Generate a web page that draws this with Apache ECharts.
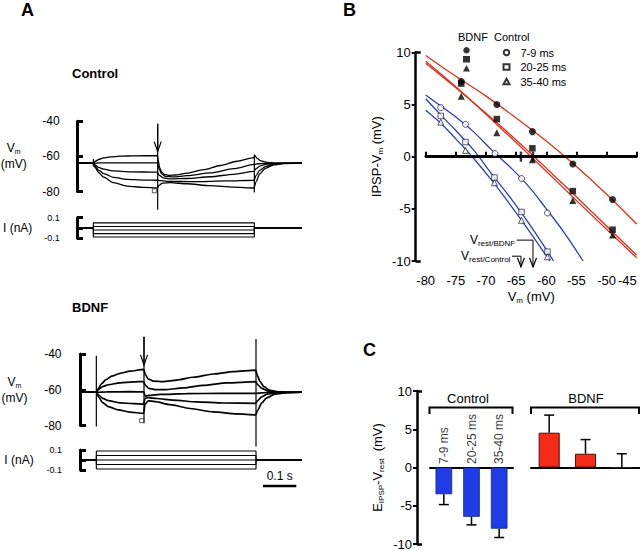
<!DOCTYPE html>
<html><head><meta charset="utf-8">
<script src="https://cdn.jsdelivr.net/npm/echarts/dist/echarts.min.js"></script>
<style>html,body{margin:0;padding:0;background:#fff}#c{width:640px;height:551px}</style>
</head><body><div id="c"></div>
<script>
// ===== Panel A: membrane potential traces, [time ms, mV] =====
const ctrlTraces = [
  [[0,-63.9],[49,-63.9],[55,-62.8],[65,-61.8],[80,-60.9],[100,-60.3],[130,-59.9],[170,-59.7],[241,-59.6],[244,-62.5],[248,-66.5],[254,-69],[262,-70.3],[275,-70.8],[295,-70.6],[330,-69.6],[380,-67.6],[430,-65.2],[480,-62.8],[531,-60.7],[534,-59.6],[540,-61.2],[552,-62.6],[570,-63.5],[600,-63.9],[674,-63.9]],
  [[0,-63.9],[49,-63.9],[70,-63.7],[241,-63.7],[246,-67],[254,-70],[265,-71.4],[290,-71.7],[330,-71],[400,-69.4],[470,-67],[531,-64.6],[545,-64.2],[580,-63.9],[674,-63.9]],
  [[0,-63.9],[49,-63.9],[55,-65],[65,-66.3],[80,-67.3],[110,-68.3],[160,-68.8],[241,-69],[247,-70.8],[258,-72.2],[280,-72.8],[330,-72.6],[400,-71.6],[470,-70.2],[531,-68.6],[537,-67],[550,-65.4],[570,-64.4],[600,-64],[674,-63.9]],
  [[0,-63.9],[49,-63.9],[55,-65.8],[65,-67.8],[80,-69.8],[110,-72],[150,-73.1],[200,-73.5],[241,-73.6],[250,-73.8],[270,-74.2],[350,-74.4],[450,-74],[531,-73.6],[537,-71],[548,-68],[565,-65.8],[590,-64.5],[620,-64],[674,-63.9]],
  [[0,-63.9],[49,-63.9],[55,-66.5],[65,-69.2],[80,-71.8],[110,-75],[150,-76.9],[200,-77.7],[241,-78],[246,-76.5],[256,-75.2],[280,-75],[330,-75.6],[400,-76.7],[470,-77.5],[531,-78],[537,-74.5],[548,-70],[565,-66.8],[590,-64.9],[620,-64.1],[674,-63.9]]
];
const ctrlArtifacts = [[[49,-61.5],[49,-65.8]], [[242,-41.5],[242,-90.4]], [[532,-59],[532,-80.5]]];
const ctrlArrowTip = [242, -57.3];
const ctrlMeasure = [232, -79.6];
const ctrlCurrentLevels = [0.05, 0.015, -0.02, -0.055, -0.087];
const ctrlStep = [49, 532, 674];

const bdnfTraces = [
  [[0,-61.4],[49,-61.4],[55,-59.2],[65,-56.6],[78,-54.3],[95,-52.4],[120,-50.8],[150,-49.6],[191,-48.6],[196,-51.5],[205,-54],[220,-55.2],[250,-55.4],[290,-54.6],[340,-53],[400,-51.2],[460,-49.9],[527,-49],[532,-52],[540,-55.5],[552,-58.3],[568,-60.2],[590,-61.1],[620,-61.4],[666,-61.4]],
  [[0,-61.4],[49,-61.4],[56,-59.8],[68,-58.2],[85,-57.2],[120,-56.1],[160,-55.6],[191,-55.4],[196,-57.5],[206,-59.2],[225,-59.9],[260,-59.9],[310,-59],[370,-57.6],[440,-56.2],[527,-55.5],[533,-57.2],[545,-59.2],[562,-60.6],[590,-61.2],[666,-61.4]],
  [[0,-61.4],[49,-61.4],[80,-61.2],[150,-61.1],[191,-61.2],[196,-63.6],[206,-63.2],[240,-62.6],[320,-62.2],[420,-62],[527,-62],[545,-61.7],[580,-61.4],[666,-61.4]],
  [[0,-61.4],[49,-61.4],[56,-63],[68,-64.8],[85,-66.1],[120,-67.3],[160,-67.8],[191,-68],[195,-64.8],[205,-64.4],[230,-64.9],[280,-65.8],[350,-66.8],[430,-67.4],[527,-67.6],[533,-66],[545,-64],[562,-62.5],[590,-61.7],[666,-61.4]],
  [[0,-61.4],[49,-61.4],[56,-64.2],[68,-67.2],[85,-69.4],[115,-71.3],[150,-72.5],[191,-73.2],[195,-68],[205,-66.2],[225,-66.6],[270,-68.3],[330,-70.5],[400,-72.4],[470,-73.5],[527,-74],[533,-71.5],[545,-67.5],[560,-64.5],[585,-62.4],[620,-61.6],[666,-61.4]]
];
const bdnfArtifacts = [[[49,-41],[49,-80.5]], [[192,-30.3],[192,-78.7]], [[528,-31.6],[528,-91.8]]];
const bdnfArrowTip = [192, -46.1];
const bdnfMeasure = [185, -77.3];
const bdnfCurrentLevels = [0.09, 0.045, 0, -0.045, -0.09];
const bdnfStep = [49, 528, 666];
const scaleBar = [[549, -0.26], [599, -0.26], [649, -0.26]];   // 0.1 s bar (start, label point, end)

// ===== Panel B: IPSP - Vm versus Vm =====
const bdnfCircle   = [[-74.1,7.2],[-68.2,5.0],[-62.3,2.4],[-55.6,-0.7],[-49.0,-4.1]];
const bdnfSquare   = [[-74.1,7.0],[-68.2,3.6],[-62.3,0.8],[-55.6,-3.3],[-49.0,-7.0]];
const bdnfTriangle = [[-74.1,5.8],[-68.2,2.3],[-62.3,-0.3],[-55.6,-4.2],[-49.0,-7.5]];
const ctrlCircle   = [[-77.5,4.7],[-73.4,3.1],[-68.5,0.3],[-64.1,-2.1],[-59.8,-5.4]];
const ctrlSquare   = [[-77.5,3.9],[-73.4,1.4],[-68.6,-2.0],[-64.1,-5.3],[-59.8,-9.1]];
const ctrlTriangle = [[-77.5,3.3],[-73.4,0.6],[-68.6,-2.5],[-64.1,-6.1],[-59.8,-9.6]];
const bdnfCircleFit   = [[-80,9.7],[-75,7.7],[-70,5.8],[-65,3.7],[-60,1.5],[-55,-0.95],[-50,-3.6],[-45,-6.45]];
const bdnfSquareFit   = [[-80,8.95],[-75,6.6],[-70,4.15],[-65,1.6],[-60,-1.1],[-55,-3.85],[-50,-6.65],[-45,-9.45]];
const bdnfTriangleFit = [[-80,9.15],[-75,6.7],[-70,4.05],[-65,1.35],[-60,-1.4],[-55,-4.2],[-50,-6.95],[-45,-9.7]];
const ctrlCircleFit   = [[-80,5.9],[-77.5,4.85],[-75,3.8],[-72,2.35],[-69,0.6],[-66,-1.0],[-63,-2.8],[-60,-5.0],[-57,-7.3],[-53.9,-10]];
const ctrlSquareFit   = [[-80,5.55],[-77.5,4.0],[-75,2.5],[-72,0.6],[-69,-1.7],[-66,-3.9],[-63,-6.3],[-60,-8.9],[-58.8,-10]];
const ctrlTriangleFit = [[-80,4.45],[-77.5,3.2],[-75,1.7],[-72,-0.2],[-69,-2.3],[-66,-4.6],[-63,-7.0],[-60,-9.5],[-59.4,-10]];
const vrest = [-64.2, -62.2];                 // Control, BDNF resting potentials
const vrestArrowRows = [-9.54, -8.0];         // y of each annotation leader (data units)
const vrestLabelEnds = [-65.7, -64.9];
const arrowBottom = -10.57;
const durations = ['7-9 ms', '20-25 ms', '35-40 ms'];

// ===== Panel C: E_IPSP - V_rest =====
const ctrlBars = [-3.5, -6.45, -8.0];
const ctrlBarErr = [-4.85, -7.5, -9.15];
const bdnfBars = [4.55, 1.8, 0];
const bdnfBarErr = [6.85, 3.65, 1.8];

// ------------------------------------------------------------------
const FONT = '"Liberation Sans", Arial, Helvetica, sans-serif';
const chart = echarts.init(document.getElementById('c'), null, {renderer: 'svg', width: 640, height: 551});
const BLK = '#000';
const RED = '#e0301e', BLUE = '#2a3fc8';
const sub = {
  v: {fontSize: 13, color: BLK, fontFamily: FONT},
  s: {fontSize: 8, color: BLK, fontFamily: FONT, padding: [8, 0, 0, 0]}
};
const chevron = 'path://M0,0 L5,10 L10,0';
const arrowStyle = {color: 'transparent', borderColor: BLK, borderWidth: 1.3};

function traceSeries(data, xi, yi, w) {
  return {type: 'line', xAxisIndex: xi, yAxisIndex: yi, data: data, symbol: 'none', clip: false,
    smooth: 0.25, smoothMonotone: 'x', lineStyle: {color: BLK, width: w}, silent: true, z: 3};
}
function stepTrace(level, step) {
  return [[0, 0], [step[0], 0], [step[0], level], [step[1], level], [step[1], 0], [step[2], 0]];
}
function hiddenX(gi, max) {
  return {gridIndex: gi, type: 'value', min: 0, max: max, show: false};
}
function bracketY(gi, min, max, interval, offset, fs, name, gap, labelFmt) {
  return {gridIndex: gi, type: 'value', min: min, max: max, interval: interval, offset: offset, position: 'left',
    axisLine: {show: true, lineStyle: {color: BLK, width: 3}},
    axisTick: {show: true, inside: true, length: 6, lineStyle: {color: BLK, width: 3}},
    axisLabel: {fontSize: fs, color: BLK, margin: 6, fontFamily: FONT, formatter: labelFmt},
    splitLine: {show: false},
    name: name, nameLocation: 'middle', nameRotate: 0, nameGap: gap,
    nameTextStyle: {align: 'center', fontSize: 12, color: BLK, fontFamily: FONT, lineHeight: 16,
      rich: {v: {fontSize: 12, fontFamily: FONT, color: BLK}, s: {fontSize: 7, fontFamily: FONT, color: BLK, padding: [7,0,0,0]}}}
  };
}
// arrow drawn as a vertical line series whose last point carries an open chevron head
function arrowSeries(xi, yi, from, tip) {
  return {type: 'line', xAxisIndex: xi, yAxisIndex: yi, clip: false, silent: true, z: 5,
    showSymbol: true, symbol: 'none', lineStyle: {color: BLK, width: 1.2},
    data: [{value: from, symbol: 'none'},
           {value: tip, symbol: chevron, symbolSize: [7, 10], symbolOffset: [0, '-50%'], itemStyle: arrowStyle}]};
}

const series = [];
// Panel A control
ctrlTraces.forEach(t => series.push(traceSeries(t, 0, 0, 1.3)));
ctrlArtifacts.forEach(t => series.push(Object.assign(traceSeries(t, 0, 0, 1.2), {smooth: false})));
series.push(arrowSeries(0, 0, ctrlArtifacts[1][0], ctrlArrowTip));
series.push({type: 'scatter', xAxisIndex: 0, yAxisIndex: 0, data: [ctrlMeasure], symbol: 'rect', symbolSize: 4,
  itemStyle: {color: '#fff', borderColor: BLK, borderWidth: 0.8}, silent: true, z: 4});
ctrlCurrentLevels.forEach(l => series.push(Object.assign(traceSeries(stepTrace(l, ctrlStep), 1, 1, 1.1), {smooth: false})));
// Panel A BDNF
bdnfTraces.forEach(t => series.push(traceSeries(t, 2, 2, 1.7)));
bdnfArtifacts.forEach(t => series.push(Object.assign(traceSeries(t, 2, 2, 1.2), {smooth: false})));
series.push(arrowSeries(2, 2, bdnfArtifacts[1][0], bdnfArrowTip));
series.push({type: 'scatter', xAxisIndex: 2, yAxisIndex: 2, data: [bdnfMeasure], symbol: 'rect', symbolSize: 4,
  itemStyle: {color: '#fff', borderColor: BLK, borderWidth: 0.8}, silent: true, z: 4});
bdnfCurrentLevels.forEach(l => series.push(Object.assign(traceSeries(stepTrace(l, bdnfStep), 3, 3, 1.1), {smooth: false})));
// time scale bar (0.1 s)
series.push({type: 'line', xAxisIndex: 3, yAxisIndex: 3, clip: false, silent: true, showSymbol: true,
  symbol: 'none', lineStyle: {color: BLK, width: 2.5},
  data: [{value: scaleBar[0], symbol: 'none'},
         {value: scaleBar[1], symbol: 'circle', symbolSize: 1, itemStyle: {color: 'transparent'},
           label: {show: true, position: 'top', distance: 4, formatter: '0.1 s', fontSize: 12, color: BLK, fontFamily: FONT}},
         {value: scaleBar[2], symbol: 'none'}]});

// Panel B fits
[[bdnfCircleFit, RED], [bdnfSquareFit, RED], [bdnfTriangleFit, RED],
 [ctrlCircleFit, BLUE], [ctrlSquareFit, BLUE], [ctrlTriangleFit, BLUE]].forEach(([d, c]) => {
  series.push({type: 'line', xAxisIndex: 4, yAxisIndex: 4, data: d, symbol: 'none', smooth: 0.4,
    lineStyle: {color: c, width: 1.3}, silent: true, z: 2});
});
// zero line and Vrest ticks
series.push({type: 'scatter', name: 'Vrest', xAxisIndex: 4, yAxisIndex: 4, data: vrest.map(v => [v, 0]),
  symbol: 'rect', symbolSize: [2.5, 10], itemStyle: {color: BLK}, silent: true, z: 5,
  markLine: {silent: true, symbol: 'none', lineStyle: {color: BLK, width: 3, type: 'solid'}, label: {show: false},
    data: [{yAxis: 0}]}});
// markers
const bSym = [['BDNF 7-9 ms', bdnfCircle, 'circle'], ['BDNF 20-25 ms', bdnfSquare, 'rect'], ['BDNF 35-40 ms', bdnfTriangle, 'triangle']];
const cSym = [[durations[0], ctrlCircle, 'circle'], [durations[1], ctrlSquare, 'rect'], [durations[2], ctrlTriangle, 'triangle']];
bSym.forEach(([n, d, s]) => series.push({type: 'scatter', name: n, xAxisIndex: 4, yAxisIndex: 4, data: d,
  symbol: s, symbolSize: s === 'rect' ? 6.5 : 7, itemStyle: {color: BLK}, silent: true, z: 6}));
cSym.forEach(([n, d, s]) => series.push({type: 'scatter', name: n, xAxisIndex: 4, yAxisIndex: 4, data: d,
  symbol: s, symbolSize: s === 'rect' ? 5.5 : 6, itemStyle: {color: '#fff', borderColor: BLK, borderWidth: 0.8}, silent: true, z: 6}));
// Vrest annotation arrows
const vrestLabels = ['{v|V}{s|rest/Control}', '{v|V}{s|rest/BDNF}'];
vrest.forEach((v, i) => {
  series.push({type: 'line', xAxisIndex: 4, yAxisIndex: 4, clip: false, symbol: 'none', showSymbol: true,
    lineStyle: {color: BLK, width: 1}, silent: true, z: 5,
    data: [{value: [vrestLabelEnds[i], vrestArrowRows[i]], symbol: 'circle', symbolSize: 1, itemStyle: {color: 'transparent'},
             label: {show: true, position: 'left', distance: 1, formatter: vrestLabels[i],
               rich: {v: {fontSize: 12, color: BLK, fontFamily: FONT}, s: {fontSize: 8, color: BLK, fontFamily: FONT, padding: [6,0,0,0]}}}},
           {value: [v, vrestArrowRows[i]], symbol: 'none'},
           {value: [v, arrowBottom], symbol: chevron, symbolSize: [7, 9], symbolOffset: [0, '-50%'], itemStyle: arrowStyle}]});
});

// Panel C bars
function errSeries(xi, yi, bars, errs) {
  return {type: 'custom', xAxisIndex: xi, yAxisIndex: yi, silent: true, z: 4,
    data: bars.map((b, i) => [i, b, errs[i]]),
    renderItem: (params, api) => {
      const p0 = api.coord([api.value(0), api.value(1)]);
      const p1 = api.coord([api.value(0), api.value(2)]);
      const st = {stroke: BLK, lineWidth: 1.5, fill: null};
      return {type: 'group', children: [
        {type: 'line', shape: {x1: p0[0], y1: p0[1], x2: p1[0], y2: p1[1]}, style: st},
        {type: 'line', shape: {x1: p1[0] - 5, y1: p1[1], x2: p1[0] + 5, y2: p1[1]}, style: st}
      ]};
    }};
}
series.push({type: 'bar', xAxisIndex: 5, yAxisIndex: 6, data: ctrlBars, barWidth: '60%',
  itemStyle: {color: '#1f3ce6', borderColor: '#14287a', borderWidth: 0.8}, silent: true, z: 3});
series.push(errSeries(5, 6, ctrlBars, ctrlBarErr));
// duration labels standing on the zero line above each control bar
series.push({type: 'scatter', xAxisIndex: 5, yAxisIndex: 6, data: durations.map((d, i) => [i, 0]),
  symbol: 'circle', symbolSize: 1, itemStyle: {color: 'transparent'}, silent: true, z: 5,
  label: {show: true, position: 'top', distance: 3, rotate: 90, align: 'left', verticalAlign: 'middle',
    formatter: p => durations[p.dataIndex], fontSize: 12, color: BLK, fontFamily: FONT}});
series.push({type: 'bar', xAxisIndex: 6, yAxisIndex: 8, data: bdnfBars, barWidth: '58%',
  itemStyle: {color: '#f52a18', borderColor: '#4a1208', borderWidth: 1}, silent: true, z: 3});
series.push(errSeries(6, 8, bdnfBars, bdnfBarErr));

const axisBase = {
  axisLine: {show: true, lineStyle: {color: BLK, width: 2.5}},
  splitLine: {show: false}
};

const option = {
  animation: false,
  backgroundColor: '#fff',
  textStyle: {fontFamily: FONT, color: BLK},
  title: [
    {text: 'A', left: 21, top: 1, padding: 0, textStyle: {fontSize: 18, fontWeight: 'bold', color: BLK, fontFamily: FONT}},
    {text: 'B', left: 343, top: 1, padding: 0, textStyle: {fontSize: 18, fontWeight: 'bold', color: BLK, fontFamily: FONT}},
    {text: 'C', left: 363, top: 341, padding: 0, textStyle: {fontSize: 18, fontWeight: 'bold', color: BLK, fontFamily: FONT}},
    {text: 'Control', left: 72, top: 67, padding: 0, textStyle: {fontSize: 13, fontWeight: 'bold', color: BLK, fontFamily: FONT}},
    {text: 'BDNF', left: 72, top: 301, padding: 0, textStyle: {fontSize: 13, fontWeight: 'bold', color: BLK, fontFamily: FONT}},
    {text: 'BDNF', left: 458, top: 31, padding: 0, textStyle: {fontSize: 11, fontWeight: 'normal', color: BLK, fontFamily: FONT}},
    {text: 'Control', left: 494, top: 31, padding: 0, textStyle: {fontSize: 11, fontWeight: 'normal', color: BLK, fontFamily: FONT}}
  ],
  legend: [
    {data: bSym.map(s => s[0]), left: 463, top: 47, orient: 'vertical', itemWidth: 7, itemHeight: 6.5, itemGap: 2.5,
      padding: 0, selectedMode: false, formatter: () => '', textStyle: {fontSize: 10, lineHeight: 6}},
    {data: cSym.map(s => s[0]), left: 502.5, top: 47, orient: 'vertical', itemWidth: 6, itemHeight: 5.5, itemGap: 3.5,
      padding: 0, selectedMode: false, textStyle: {fontSize: 11, lineHeight: 6, color: BLK, fontFamily: FONT, padding: [0, 0, 0, 6]}}
  ],
  grid: [
    {left: 77, top: 121.2, width: 225, height: 70.3, outerBoundsMode: 'none'},
    {left: 77, top: 217.7, width: 225, height: 20.6, outerBoundsMode: 'none'},
    {left: 80, top: 354, width: 222, height: 71.5, outerBoundsMode: 'none'},
    {left: 80, top: 450, width: 222, height: 20, outerBoundsMode: 'none'},
    {left: 425.7, top: 52.3, width: 211, height: 208.7, outerBoundsMode: 'none'},
    {left: 430, top: 391, width: 83, height: 153, outerBoundsMode: 'none'},
    {left: 531, top: 391, width: 109, height: 153, outerBoundsMode: 'none'}
  ],
  xAxis: [
    hiddenX(0, 675), hiddenX(1, 675), hiddenX(2, 666), hiddenX(3, 666),
    Object.assign({gridIndex: 4, type: 'value', min: -80, max: -45, interval: 5, offset: 7, position: 'bottom',
      axisTick: {show: true, inside: true, length: 5, lineStyle: {color: BLK, width: 2}},
      axisLabel: {fontSize: 13, color: BLK, margin: 6, fontFamily: FONT, alignMaxLabel: 'right'},
      name: '{v|V}{s|m} (mV)', nameLocation: 'middle', nameGap: 20,
      nameTextStyle: {fontSize: 13, color: BLK, fontFamily: FONT, rich: sub}}, axisBase),
    {gridIndex: 5, type: 'category', data: durations, position: 'bottom',
      axisLine: {show: true, onZero: true, lineStyle: {color: BLK, width: 2}}, axisTick: {show: false},
      axisLabel: {show: false}, splitLine: {show: false}},
    {gridIndex: 6, type: 'category', data: durations, position: 'bottom',
      axisLine: {show: true, onZero: true, lineStyle: {color: BLK, width: 2}}, axisTick: {show: false},
      axisLabel: {show: false}, splitLine: {show: false}}
  ],
  yAxis: [
    bracketY(0, -80, -40, 20, 11.3, 12, '{v|V}{s|m}\n(mV)', 52),
    bracketY(1, -0.1, 0.1, 0.1, 11.3, 9, 'I (nA)', 48, v => Math.abs(v) < 1e-9 ? '' : v.toFixed(1)),
    bracketY(2, -80, -40, 20, 12.5, 12, '{v|V}{s|m}\n(mV)', 53),
    bracketY(3, -0.1, 0.1, 0.1, 12, 9, 'I (nA)', 49, v => Math.abs(v) < 1e-9 ? '' : v.toFixed(1)),
    Object.assign({gridIndex: 4, type: 'value', min: -10, max: 10, interval: 5, offset: 10, position: 'left',
      axisTick: {show: true, inside: false, length: 4, lineStyle: {color: BLK, width: 2}},
      axisLabel: {fontSize: 13, color: BLK, margin: 5, fontFamily: FONT},
      name: '{v|IPSP-V}{s|m} (mV)', nameLocation: 'middle', nameGap: 31,
      nameTextStyle: {fontSize: 13, color: BLK, fontFamily: FONT, rich: sub}}, axisBase),
    {gridIndex: 4, type: 'value', min: -10, max: 10, interval: 20, offset: 10, position: 'left',
      axisLine: {show: false}, axisTick: {show: true, inside: true, length: 5, lineStyle: {color: BLK, width: 2.5}},
      axisLabel: {show: false}, splitLine: {show: false}},
    Object.assign({gridIndex: 5, type: 'value', min: -10, max: 10, interval: 5, offset: 13, position: 'left',
      axisTick: {show: true, inside: false, length: 4, lineStyle: {color: BLK, width: 2}},
      axisLabel: {fontSize: 13, color: BLK, margin: 5, fontFamily: FONT, lineHeight: 12},
      name: '{v|E}{s|IPSP}{v|-V}{s|rest}{v|  (mV)}', nameLocation: 'middle', nameGap: 32,
      nameTextStyle: {fontSize: 13, color: BLK, fontFamily: FONT, rich: sub}}, axisBase),
    {gridIndex: 5, type: 'value', min: -10, max: 10, interval: 20, offset: 13, position: 'left',
      axisLine: {show: false}, axisTick: {show: true, inside: true, length: 5, lineStyle: {color: BLK, width: 2.5}},
      axisLabel: {show: false}, splitLine: {show: false}},
    {gridIndex: 6, type: 'value', min: -10, max: 10, show: false}
  ],
  graphic: [
    {type: 'polyline', shape: {points: [[429.5, 414], [429.5, 407.5], [512.5, 407.5], [512.5, 414]]}, style: {stroke: BLK, lineWidth: 2, fill: null}, silent: true},
    {type: 'polyline', shape: {points: [[531, 414], [531, 407.5], [639, 407.5], [639, 414]]}, style: {stroke: BLK, lineWidth: 2, fill: null}, silent: true},
    {type: 'text', x: 468, y: 398, style: {text: 'Control', fontSize: 13, fill: BLK, fontFamily: FONT, align: 'center', verticalAlign: 'middle'}, silent: true},
    {type: 'text', x: 586, y: 398, style: {text: 'BDNF', fontSize: 13, fill: BLK, fontFamily: FONT, align: 'center', verticalAlign: 'middle'}, silent: true}
  ],
  series: series
};
chart.setOption(option);
</script>
</body></html>
